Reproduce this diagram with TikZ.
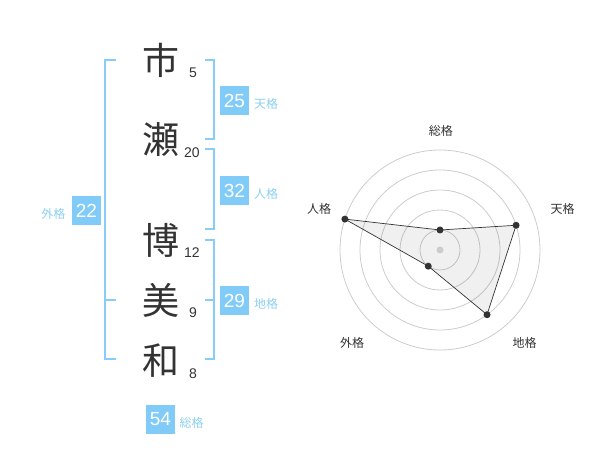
\documentclass[tikz,border=0pt]{standalone}
\usepackage{fontspec}
\setmainfont{Liberation Sans}
\newfontfamily\cjk{Noto Sans CJK JP}
\definecolor{brk}{HTML}{88CDF6}
\definecolor{bx}{HTML}{80CBF8}
\definecolor{lbl}{HTML}{8CCFF2}
\definecolor{dk}{HTML}{333333}
\definecolor{ring}{HTML}{CCCCCC}
\begin{document}
\begin{tikzpicture}[x=1pt,y=-1pt,
  kanji/.style={font=\cjk\fontsize{37}{37}\selectfont,text=dk,inner sep=0pt},
  strokes/.style={font=\fontsize{14}{14}\selectfont,text=dk,inner sep=0pt},
  numbox/.style={fill=bx,text=white,minimum width=29pt,minimum height=29pt,inner sep=0pt,font=\fontsize{19}{19}\selectfont},
  kaku/.style={font=\cjk\fontsize{12}{12}\selectfont,text=lbl,inner sep=0pt},
  axislbl/.style={font=\cjk\fontsize{12}{12}\selectfont,text=dk,inner sep=0pt},
  bracket/.style={draw=brk,line width=2pt},
  dot/.style={circle,fill=dk,inner sep=0pt,minimum size=7pt}]
\useasboundingbox (0,0) rectangle (600,470);
% characters
\node[kanji] (c1) at (160.5,60) {市};
\node[kanji] (c2) at (160.5,140) {瀬};
\node[kanji] (c3) at (160.5,240) {博};
\node[kanji] (c4) at (160.5,300) {美};
\node[kanji] (c5) at (160.5,361) {和};
\node[strokes] (n1) at (193,72.5) {5};
\node[strokes] (n2) at (192,152.7) {20};
\node[strokes] (n3) at (192,252.5) {12};
\node[strokes] (n4) at (193,313) {9};
\node[strokes] (n5) at (193,373.5) {8};
% brackets
\draw[bracket] (116,60.3) -- (105,60.3) -- (105,359) -- (116,359);
\draw[bracket] (105,300) -- (116,300);
\draw[bracket] (205,60.3) -- (214.3,60.3) -- (214.3,139.3) -- (205,139.3);
\draw[bracket] (205,149.3) -- (214.3,149.3) -- (214.3,229) -- (205,229);
\draw[bracket] (205,240) -- (214.3,240) -- (214.3,359) -- (205,359);
\draw[bracket] (205,300) -- (214.3,300);
% boxes
\node[numbox] (b25) at (234.5,100.5) {25};
\node[kaku] (l25) at (266,104) {天格};
\node[numbox] (b32) at (234.5,190.5) {32};
\node[kaku] (l32) at (266,194) {人格};
\node[numbox] (b29) at (234.5,300.5) {29};
\node[kaku] (l29) at (266,304) {地格};
\node[numbox] (b22) at (86.5,210.5) {22};
\node[kaku] (l22) at (53.5,214) {外格};
\node[numbox] (b54) at (160.5,419.5) {54};
\node[kaku] (l54) at (191.5,423) {総格};
% radar
\begin{scope}[shift={(440,250)}]
  \foreach \r in {20,40,60,80,100} \draw[ring,line width=0.8pt] (0,0) circle[radius=\r];
  \coordinate (pS) at (-90:20);
  \coordinate (pT) at (-18:80);
  \coordinate (pC) at (54:80);
  \coordinate (pG) at (126:20);
  \coordinate (pJ) at (198:100);
  \fill[black,opacity=0.06] (pS) -- (pT) -- (pC) -- (pG) -- (pJ) -- cycle;
  \draw[dk,line width=0.7pt] (pS) -- (pT) -- (pC) -- (pG) -- (pJ) -- cycle;
  \fill[ring] (0,0) circle[radius=3.5];
  \foreach \p in {pS,pT,pC,pG,pJ} \node[dot] at (\p) {};
\end{scope}
\node[axislbl] (aS) at (440.8,131) {総格};
\node[axislbl] (aT) at (562.5,208.5) {天格};
\node[axislbl] (aC) at (524.5,342.5) {地格};
\node[axislbl] (aG) at (352,342.5) {外格};
\node[axislbl] (aJ) at (319,208.5) {人格};
\end{tikzpicture}
\end{document}
